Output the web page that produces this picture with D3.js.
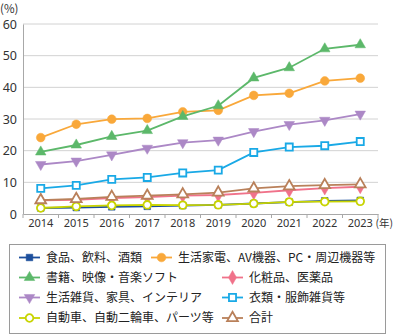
<!DOCTYPE html>
<html>
<head>
<meta charset="utf-8">
<script src="https://cdn.jsdelivr.net/npm/d3@7"></script>
<style>
  body { margin: 0; background: #fff; }
  svg { display: block; font-family: "Noto Sans CJK JP", "Noto Sans", sans-serif; }
</style>
</head>
<body>
<div id="chart"></div>
<script>
const years = ["2014", "2015", "2016", "2017", "2018", "2019", "2020", "2021", "2022", "2023"];
const yTicks = [0, 10, 20, 30, 40, 50, 60];

const food = [1.89, 2.03, 2.25, 2.41, 2.64, 2.89, 3.31, 3.77, 4.16, 4.29];
const appliances = [24.13, 28.34, 29.93, 30.18, 32.28, 32.75, 37.45, 38.13, 42.01, 42.88];
const books = [19.59, 21.79, 24.50, 26.35, 30.80, 34.18, 42.97, 46.20, 52.16, 53.45];
const cosmetics = [4.3, 4.5, 5.0, 5.3, 5.8, 6.0, 6.7, 7.5, 8.2, 8.6];
const goods = [15.63, 16.70, 18.66, 20.76, 22.51, 23.32, 26.03, 28.25, 29.59, 31.54];
const clothing = [8.11, 9.04, 10.93, 11.54, 12.96, 13.87, 19.44, 21.15, 21.56, 22.88];
const autos = [1.9, 2.4, 2.7, 2.9, 2.8, 2.9, 3.3, 3.8, 3.9, 4.0];
const total = [4.37, 4.75, 5.43, 5.79, 6.22, 6.76, 8.08, 8.78, 9.13, 9.38];

const seriesNames = ["食品、飲料、酒類", "生活家電、AV機器、PC・周辺機器等", "書籍、映像・音楽ソフト", "化粧品、医薬品",
  "生活雑貨、家具、インテリア", "衣類・服飾雑貨等", "自動車、自動二輪車、パーツ等", "合計"];

const series = [
  { name: seriesNames[0], values: food, color: "#1c4f9c", shape: "square", open: false },
  { name: seriesNames[1], values: appliances, color: "#f9a83a", shape: "circle", open: false },
  { name: seriesNames[2], values: books, color: "#5cb86a", shape: "triangle", open: false },
  { name: seriesNames[3], values: cosmetics, color: "#f0728a", shape: "diamond", open: false },
  { name: seriesNames[4], values: goods, color: "#ac88c6", shape: "triangleDown", open: false },
  { name: seriesNames[5], values: clothing, color: "#19a9e6", shape: "square", open: true },
  { name: seriesNames[6], values: autos, color: "#c8d400", shape: "circle", open: true },
  { name: seriesNames[7], values: total, color: "#b9805a", shape: "triangle", open: true }
];

const width = 393, height = 335;
const margin = { top: 24, left: 23, right: 15 };
const plotBottom = 214;

const svg = d3.select("#chart").append("svg")
  .attr("width", width)
  .attr("height", height);

const x = d3.scaleBand().domain(years).range([margin.left, width - margin.right]);
const y = d3.scaleLinear().domain([0, 60]).range([plotBottom, margin.top]);

// grid lines
svg.append("g")
  .selectAll("line")
  .data(yTicks.filter(d => d > 0))
  .join("line")
  .attr("x1", margin.left).attr("x2", width - margin.right)
  .attr("y1", d => y(d)).attr("y2", d => y(d))
  .attr("stroke", "#d2d2d2").attr("stroke-width", 1);

// y axis
const yAxis = svg.append("g")
  .attr("transform", `translate(${margin.left},0)`)
  .call(d3.axisLeft(y).tickValues(yTicks).tickSize(0).tickPadding(6));
yAxis.select(".domain").attr("stroke", "#a8a8a8");
yAxis.selectAll("text").attr("font-size", 12.5).attr("fill", "#333")
  .attr("font-family", "Noto Sans, sans-serif");

// x axis with ticks on category boundaries
const xAxis = svg.append("g")
  .attr("transform", `translate(0,${plotBottom})`)
  .call(d3.axisBottom(x).tickSize(0).tickPadding(5));
xAxis.select(".domain").attr("stroke", "#a8a8a8");
xAxis.selectAll("text").attr("font-size", 11).attr("fill", "#333")
  .attr("font-family", "Noto Sans, sans-serif");
xAxis.selectAll(".boundary")
  .data(years.map(d => x(d)).concat([x(years[years.length - 1]) + x.bandwidth()]))
  .join("line")
  .attr("class", "boundary")
  .attr("x1", d => d).attr("x2", d => d)
  .attr("y1", 0).attr("y2", 4)
  .attr("stroke", "#a8a8a8");

svg.append("text")
  .attr("x", 375.5).attr("y", plotBottom + 13)
  .attr("font-size", 10.5).attr("fill", "#333")
  .text("(年)");

svg.append("text")
  .attr("x", 0).attr("y", 13)
  .attr("font-size", 11.5).attr("fill", "#333")
  .text("(%)");

const symbolTypes = {
  square: d3.symbolSquare,
  circle: d3.symbolCircle,
  triangle: d3.symbolTriangle,
  triangleDown: d3.symbolTriangle,
  diamond: d3.symbolDiamond
};
const symbolSizes = { square: 44, circle: 60, triangle: 48, triangleDown: 48, diamond: 56 };
const openSizes = { square: 50, circle: 46, triangle: 50 };

function drawMarker(g, s) {
  const size = s.open ? openSizes[s.shape] : symbolSizes[s.shape];
  g.append("path")
    .attr("d", d3.symbol(symbolTypes[s.shape], size)())
    .attr("transform", s.shape === "triangleDown" ? "rotate(180)" : null)
    .attr("fill", s.open ? "#fff" : s.color)
    .attr("stroke", s.color)
    .attr("stroke-width", s.open ? 1.8 : 0.5);
}

const line = d3.line()
  .x((d, i) => x(years[i]) + x.bandwidth() / 2)
  .y(d => y(d));

series.forEach(s => {
  const g = svg.append("g");
  g.append("path")
    .attr("d", line(s.values))
    .attr("fill", "none")
    .attr("stroke", s.color)
    .attr("stroke-width", 1.8);
  s.values.forEach((v, i) => {
    const m = g.append("g")
      .attr("transform", `translate(${x(years[i]) + x.bandwidth() / 2},${y(v)})`);
    drawMarker(m, s);
  });
});

// legend
svg.append("rect")
  .attr("x", 9.5).attr("y", 244.5)
  .attr("width", 376).attr("height", 89)
  .attr("fill", "#fff").attr("stroke", "#9a9a9a");

const legendRows = [257.5, 277.5, 297.5, 318];
const legendPos = [
  { x: 19, row: 0 }, { x: 151, row: 0 },
  { x: 19, row: 1 }, { x: 222, row: 1 },
  { x: 19, row: 2 }, { x: 222, row: 2 },
  { x: 19, row: 3 }, { x: 222, row: 3 }
];

series.forEach((s, i) => {
  const p = legendPos[i];
  const g = svg.append("g").attr("transform", `translate(${p.x},${legendRows[p.row]})`);
  g.append("line").attr("x1", 0).attr("x2", 21).attr("y1", 0).attr("y2", 0)
    .attr("stroke", s.color).attr("stroke-width", 1.8);
  const m = g.append("g").attr("transform", "translate(10.5,0)");
  drawMarker(m, s);
  g.append("text")
    .attr("x", 27).attr("y", 0).attr("dy", "0.36em")
    .attr("font-size", 12).attr("fill", "#222")
    .text(s.name);
});
</script>
</body>
</html>
